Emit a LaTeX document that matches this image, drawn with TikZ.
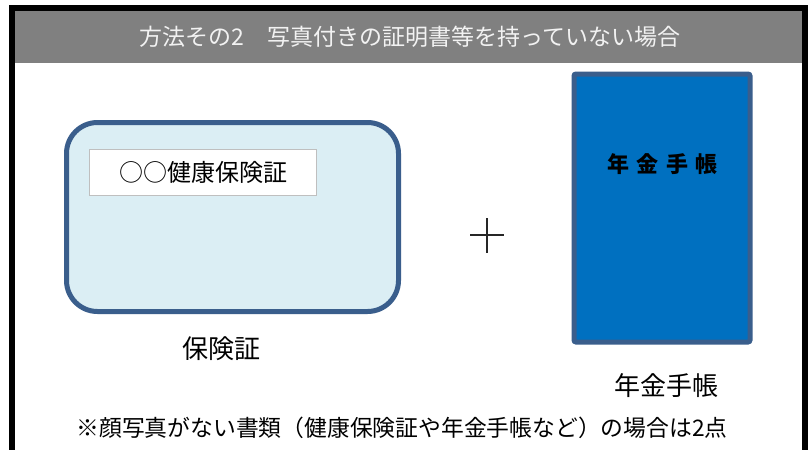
\documentclass[tikz,border=0pt]{standalone}
\usepackage{fontspec}
\newfontfamily\jp{Noto Sans CJK JP}
\definecolor{hdrgray}{HTML}{808080}
\definecolor{hdrtext}{HTML}{F2F2F2}
\definecolor{edgeblue}{HTML}{3A5E8C}
\definecolor{cardfill}{HTML}{DBEEF4}
\definecolor{bookblue}{HTML}{0070C0}
\definecolor{labelgray}{HTML}{BFBFBF}
\definecolor{plusgray}{HTML}{262626}
\tikzset{
  cardbox/.style={draw=edgeblue, fill=cardfill, line width=5pt, rounded corners=31pt, minimum width=332pt, minimum height=189pt, inner sep=0pt},
  namebox/.style={draw=labelgray, fill=white, line width=1.5pt, minimum width=227pt, minimum height=46pt, inner sep=0pt, font=\jp\fontsize{24}{26}\selectfont},
  bookbox/.style={draw=edgeblue, fill=bookblue, line width=5pt, rounded corners=2pt, minimum width=176pt, minimum height=268pt, inner sep=0pt},
  booktitle/.style={inner sep=0pt, font=\jp\bfseries\fontsize{22}{24}\selectfont},
  caption/.style={inner sep=0pt, font=\jp\fontsize{26}{28}\selectfont},
  hdr/.style={inner sep=0pt, text=hdrtext, font=\jp\fontsize{23}{26}\selectfont},
  note/.style={inner sep=0pt, font=\jp\fontsize{22.8}{26}\selectfont},
  plusline/.style={draw=plusgray, line width=2pt}
}
\begin{document}
\begin{tikzpicture}[x=1pt, y=-1pt]
\useasboundingbox (0,0) rectangle (812,450);
% frame
\fill[black] (9,5) rectangle (808,450);
\fill[white] (15,11) rectangle (802,450);
% header
\fill[hdrgray] (15,11) rectangle (802,63);
\node[hdr] (title) at (410,37) {方法その2　写真付きの証明書等を持っていない場合};
% card
\node[cardbox] (card) at (232.5,217) {};
\node[namebox] (name) at (203,172.5) {○○健康保険証};
\node[caption] (cardcap) at (221.5,349) {保険証};
% plus
\coordinate (pl) at (470,235);
\coordinate (pr) at (504,235);
\coordinate (pt) at (486.7,218);
\coordinate (pb) at (486.7,253);
\draw[plusline] (pl) -- (pr);
\draw[plusline] (pt) -- (pb);
% pension book
\node[bookbox] (book) at (662,208) {};
\node[booktitle] (booktext) at (662.5,164) {年\hspace{7.5pt}金\hspace{7.5pt}手\hspace{7.5pt}帳};
\node[caption] (bookcap) at (666.5,386) {年金手帳};
% note
\node[note] (remark) at (402,428) {※顔写真がない書類（健康保険証や年金手帳など）の場合は2点};
\end{tikzpicture}
\end{document}
